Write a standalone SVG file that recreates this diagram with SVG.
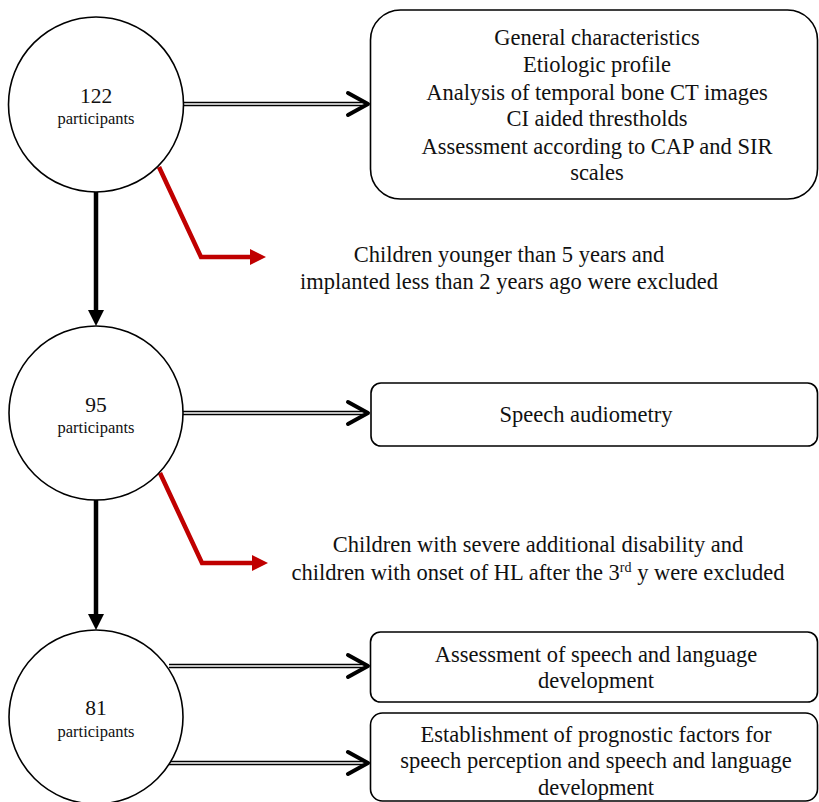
<svg xmlns="http://www.w3.org/2000/svg" width="819" height="802" viewBox="0 0 819 802">
<style>
.node{fill:#fff;stroke:#000;stroke-width:1.6}
text{font-family:"Liberation Serif","Times New Roman",serif;fill:#111;text-anchor:middle}
.t{font-size:22.5px}
.n{font-size:21.5px}
.s{font-size:16.5px}
.dbo{stroke:#000;stroke-width:4.6;fill:none}
.dbi{stroke:#fff;stroke-width:1.6;fill:none}
.chev{stroke:#000;stroke-width:4;fill:none;stroke-linecap:round;stroke-linejoin:round}
.blk{stroke:#000;stroke-width:4.5;fill:none}
.red{stroke:#c00000;stroke-width:4.5;fill:none;stroke-linejoin:miter}
</style>
<rect width="819" height="802" fill="#fff"/>
<g id="connectors">
  <line class="dbo" x1="184" y1="104" x2="366" y2="104"/><line class="dbi" x1="184" y1="104" x2="366" y2="104"/>
  <polyline class="chev" points="348,93 368,104 348,115"/>
  <line class="dbo" x1="183" y1="413" x2="366" y2="413"/><line class="dbi" x1="183" y1="413" x2="366" y2="413"/>
  <polyline class="chev" points="348,402 368,413 348,424"/>
  <line class="dbo" x1="169" y1="666" x2="366" y2="666"/><line class="dbi" x1="169" y1="666" x2="366" y2="666"/>
  <polyline class="chev" points="348,655 368,666 348,677"/>
  <line class="dbo" x1="169" y1="763" x2="366" y2="763"/><line class="dbi" x1="169" y1="763" x2="366" y2="763"/>
  <polyline class="chev" points="348,752 368,763 348,774"/>
  <line class="blk" x1="96" y1="192" x2="96" y2="312"/>
  <polygon points="88,310 104,310 96,326" fill="#000"/>
  <line class="blk" x1="96" y1="500" x2="96" y2="616"/>
  <polygon points="88,614 104,614 96,630" fill="#000"/>
  <polyline class="red" points="159,167 201,257 252,257"/>
  <polygon points="250,249 266,257 250,265" fill="#c00000"/>
  <polyline class="red" points="160,473 202,563 254,563"/>
  <polygon points="252,555 268,563 252,571" fill="#c00000"/>
</g>
<g id="n122">
  <circle class="node" cx="96" cy="104.5" r="87.5"/>
  <text class="n" x="96" y="103">122</text>
  <text class="s" x="96" y="124">participants</text>
</g>
<g id="n95">
  <circle class="node" cx="96" cy="413" r="87"/>
  <text class="n" x="96" y="412">95</text>
  <text class="s" x="96" y="433">participants</text>
</g>
<g id="n81">
  <circle class="node" cx="96" cy="717" r="87"/>
  <text class="n" x="96" y="715">81</text>
  <text class="s" x="96" y="737">participants</text>
</g>
<g id="box1">
  <rect class="node" x="370.5" y="10" width="447" height="189" rx="30" ry="30"/>
  <text class="t" x="597" y="45">General characteristics</text>
  <text class="t" x="597" y="72">Etiologic profile</text>
  <text class="t" x="597" y="100">Analysis of temporal bone CT images</text>
  <text class="t" x="597" y="126">CI aided threstholds</text>
  <text class="t" x="597" y="154">Assessment according to CAP and SIR</text>
  <text class="t" x="597" y="180">scales</text>
</g>
<g id="excl1">
  <text class="t" x="509" y="262">Children younger than 5 years and</text>
  <text class="t" x="509" y="289">implanted less than 2 years ago were excluded</text>
</g>
<g id="box2">
  <rect class="node" x="371" y="383" width="446.5" height="63" rx="10" ry="10"/>
  <text class="t" x="586" y="422">Speech audiometry</text>
</g>
<g id="excl2">
  <text class="t" x="538" y="552">Children with severe additional disability and</text>
  <text class="t" x="538" y="580">children with onset of HL after the 3<tspan font-size="14" dy="-8">rd</tspan><tspan dy="8"> y were excluded</tspan></text>
</g>
<g id="box3">
  <rect class="node" x="370.5" y="632" width="447" height="70" rx="10" ry="10"/>
  <text class="t" x="596" y="662">Assessment of speech and language</text>
  <text class="t" x="596" y="688">development</text>
</g>
<g id="box4">
  <rect class="node" x="370.5" y="713" width="447" height="88" rx="12" ry="12"/>
  <text class="t" x="596" y="742">Establishment of prognostic factors for</text>
  <text class="t" x="596" y="768">speech perception and speech and language</text>
  <text class="t" x="596" y="795">development</text>
</g>
</svg>
